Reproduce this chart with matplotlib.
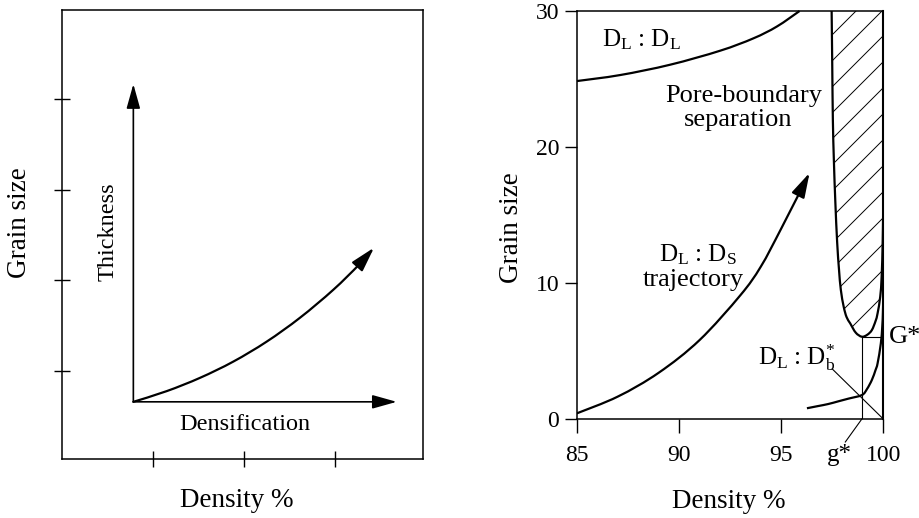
import numpy as np
import matplotlib
matplotlib.use('Agg')
import matplotlib.pyplot as plt
from matplotlib.patches import FancyArrowPatch, PathPatch
from matplotlib.path import Path
from matplotlib.lines import Line2D

plt.rcParams['font.family'] = ['Liberation Serif', 'DejaVu Serif']
plt.rcParams['mathtext.fontset'] = 'custom'
plt.rcParams['mathtext.rm'] = 'Liberation Serif'
plt.rcParams['mathtext.it'] = 'Liberation Serif:italic'

# ---------------- data ----------------
# Left schematic panel (arbitrary units)
left_xticks = [1, 2, 3]
left_yticks = [1, 2, 3, 4]
left_origin_x = 0.784
left_origin_y = 0.663
left_thickness_tip = 4.162
left_densification_tip = 3.678
left_curve_x = [0.784, 1.151, 1.516, 1.882, 2.249, 2.615, 2.981, 3.264, 3.429]
left_curve_y = [0.663, 0.781, 0.927, 1.106, 1.326, 1.589, 1.897, 2.174, 2.361]

# Right panel: density (%) vs grain size
density_ticks = [85, 90, 95, 100]
grain_ticks = [0, 10, 20, 30]

dldl_x = [85.0, 87.11, 89.56, 92.01, 93.64, 94.79, 95.9]
dldl_y = [24.85, 25.29, 26.05, 27.08, 27.99, 28.86, 30.0]

traj_x = [85.0, 87.0, 89.0, 91.0, 93.0, 94.0, 95.0, 96.39]
traj_y = [0.42, 1.65, 3.4, 5.8, 9.1, 11.2, 14.0, 18.1]

sep_x = [97.47, 97.50, 97.53, 97.58, 97.65, 97.74, 97.83, 97.92, 98.06, 98.20,
         98.38, 98.65, 98.95, 99.22, 99.44, 99.62, 99.72, 99.85, 99.92, 99.97, 100.0]
sep_y = [30.0, 26.0, 22.0, 19.0, 16.0, 13.0, 11.0, 9.5, 8.26, 7.5,
         7.03, 6.35, 6.05, 6.2, 6.54, 7.2, 7.77, 9.0, 10.5, 13.0, 16.0]

dlb_x = [96.26, 96.8, 97.3, 97.8, 98.3, 98.95, 99.2, 99.44, 99.62, 99.72, 99.88, 99.95, 99.98, 100.0]
dlb_y = [0.79, 0.95, 1.1, 1.3, 1.5, 1.76, 2.2, 2.87, 3.6, 4.09, 5.56, 6.8, 7.77, 9.0]

g_star = 98.95
G_star = 6.05
diag_end_x = 97.5
diag_end_y = 3.68

# ---------------- helpers ----------------
def smooth_path(xs, ys):
    """Cubic Bezier path passing through the given points (Catmull-Rom tangents)."""
    P = np.column_stack([xs, ys]).astype(float)
    n = len(P)
    verts = [P[0]]
    codes = [Path.MOVETO]
    for i in range(n - 1):
        p0 = P[i - 1] if i > 0 else P[i]
        p1 = P[i]
        p2 = P[i + 1]
        p3 = P[i + 2] if i + 2 < n else P[i + 1]
        c1 = p1 + (p2 - p0) / 6.0
        c2 = p2 - (p3 - p1) / 6.0
        verts += [c1, c2, p2]
        codes += [Path.CURVE4] * 3
    return Path(np.array(verts), codes)

# ---------------- figure ----------------
FW, FH = 920, 518
fig = plt.figure(figsize=(FW / 100, FH / 100), dpi=100)

def fpx(x, y):
    return x / FW, 1 - y / FH

lw_main = 1.6
lw_thin = 0.8
lw_spine = 1.1
tick_fs = 17
label_fs = 19.5
inner_fs = 19
math_fs = 18
left_fs = 17.5
head = '-|>,head_length=15,head_width=4.2'

# ---- left panel ----
axL = fig.add_axes([62 / FW, 1 - 459.3 / FH, 361.3 / FW, 449 / FH])
axL.set_xlim(0, 3.97)
axL.set_ylim(0.03, 4.975)
axL.set_xticks(left_xticks)
axL.set_yticks(left_yticks)
axL.set_xticklabels([])
axL.set_yticklabels([])
axL.tick_params(direction='inout', length=11.5, width=1.0, color='black')
for s in axL.spines.values():
    s.set_linewidth(lw_spine)

axL.add_patch(FancyArrowPatch((left_origin_x, left_origin_y), (left_origin_x, left_thickness_tip),
                              arrowstyle=head, mutation_scale=1, lw=1.2, color='black',
                              shrinkA=0, shrinkB=0, transform=axL.transData))
axL.add_patch(FancyArrowPatch((left_origin_x, left_origin_y), (left_densification_tip, left_origin_y),
                              arrowstyle=head, mutation_scale=1, lw=1.2, color='black',
                              shrinkA=0, shrinkB=0, transform=axL.transData))
axL.add_patch(FancyArrowPatch(path=smooth_path(left_curve_x, left_curve_y), arrowstyle=head,
                              mutation_scale=1, lw=lw_main, color='black', transform=axL.transData))

fig.text(*fpx(108.3, 231.3), 'Thickness', rotation=90, ha='center', va='center', fontsize=left_fs)
fig.text(*fpx(244.7, 430), 'Densification', ha='center', va='baseline', fontsize=left_fs)
fig.text(*fpx(20, 222.7), 'Grain size', rotation=90, ha='center', va='center', fontsize=label_fs)
fig.text(*fpx(236.7, 506.7), 'Density %', ha='center', va='baseline', fontsize=label_fs)

# ---- right panel ----
axR = fig.add_axes([577 / FW, 1 - 419 / FH, 306.3 / FW, 408 / FH])
axR.set_xlim(85, 100)
axR.set_ylim(0, 30)
axR.set_xticks(density_ticks)
axR.set_yticks(grain_ticks)
axR.set_xticklabels([str(v) for v in density_ticks])
axR.set_yticklabels([str(v) for v in grain_ticks])
axR.tick_params(axis='x', direction='out', length=10.3, width=1.0, pad=8.5, labelsize=tick_fs)
axR.tick_params(axis='y', direction='out', length=8.4, width=1.0, pad=4.5, labelsize=tick_fs)
for k, s in axR.spines.items():
    s.set_linewidth(lw_spine)
axR.spines['right'].set_linewidth(1.5)

def add_curve(ax, xs, ys, lw=lw_main, clip_on=True):
    pp = PathPatch(smooth_path(xs, ys), facecolor='none', edgecolor='black', lw=lw,
                   transform=ax.transData, capstyle='butt')
    pp.set_clip_on(clip_on)
    ax.add_patch(pp)

add_curve(axR, dldl_x, dldl_y, clip_on=False)

axR.add_patch(FancyArrowPatch(path=smooth_path(traj_x, traj_y), arrowstyle=head, mutation_scale=1,
                              lw=lw_main, color='black', transform=axR.transData))

add_curve(axR, sep_x, sep_y)
sep_path = smooth_path(sep_x, sep_y)
clip_verts = np.vstack([sep_path.vertices, [[100.0, 30.0], [sep_x[0], sep_y[0]]]])
clip_codes = list(sep_path.codes) + [Path.LINETO, Path.CLOSEPOLY]
clip = PathPatch(Path(clip_verts, clip_codes), facecolor='none', edgecolor='none',
                 transform=axR.transData)
axR.add_patch(clip)

pos = axR.get_position()
x0px = pos.x0 * FW
ybpx = (1 - pos.y0) * FH
sx = pos.width * FW / 15.0
sy = pos.height * FH / 30.0
hatch_C0 = 867.0
hatch_step = 26.0
xs = np.array([96.5, 100.5])
for k in range(0, 40):
    C = hatch_C0 + k * hatch_step
    ys = ((xs - 85) * sx + x0px + ybpx - C) / sy
    ln = Line2D(xs, ys, color='black', lw=0.7)
    axR.add_line(ln)
    ln.set_clip_path(clip)

add_curve(axR, dlb_x, dlb_y)

axR.plot([g_star, g_star], [0, G_star], color='black', lw=lw_thin)
axR.plot([g_star, 100], [G_star, G_star], color='black', lw=lw_thin)
axR.plot([100, diag_end_x], [0, diag_end_y], color='black', lw=lw_thin)
axR.plot([g_star, 98.14], [0, -1.69], color='black', lw=lw_thin, clip_on=False)

tx = dict(fontsize=inner_fs, va='baseline')
mx = dict(fontsize=math_fs, va='baseline')
axR.text(86.21, 27.38, r'D$_{\mathrm{L}}$ : D$_{\mathrm{L}}$', ha='left', **mx)
axR.text(93.17, 23.33, 'Pore-boundary', ha='center', **tx)
axR.text(92.87, 21.54, 'separation', ha='center', **tx)
axR.text(90.90, 11.57, r'D$_{\mathrm{L}}$ : D$_{\mathrm{S}}$', ha='center', **mx)
axR.text(90.71, 9.78, 'trajectory', ha='center', **tx)
axR.text(93.88, 3.97, r'D$_{\mathrm{L}}$ : D$_{\mathrm{b}}^{*}$', ha='left', **mx)
axR.text(100.26, 5.57, 'G*', ha='left', clip_on=False, **tx)
axR.text(97.84, -3.09, 'g*', ha='center', clip_on=False, fontsize=tick_fs + 1, va='baseline')

fig.text(*fpx(511.7, 227.7), 'Grain size', rotation=90, ha='center', va='center', fontsize=label_fs)
fig.text(*fpx(729, 508.3), 'Density %', ha='center', va='baseline', fontsize=label_fs)

fig.savefig('out.png', dpi=100)
